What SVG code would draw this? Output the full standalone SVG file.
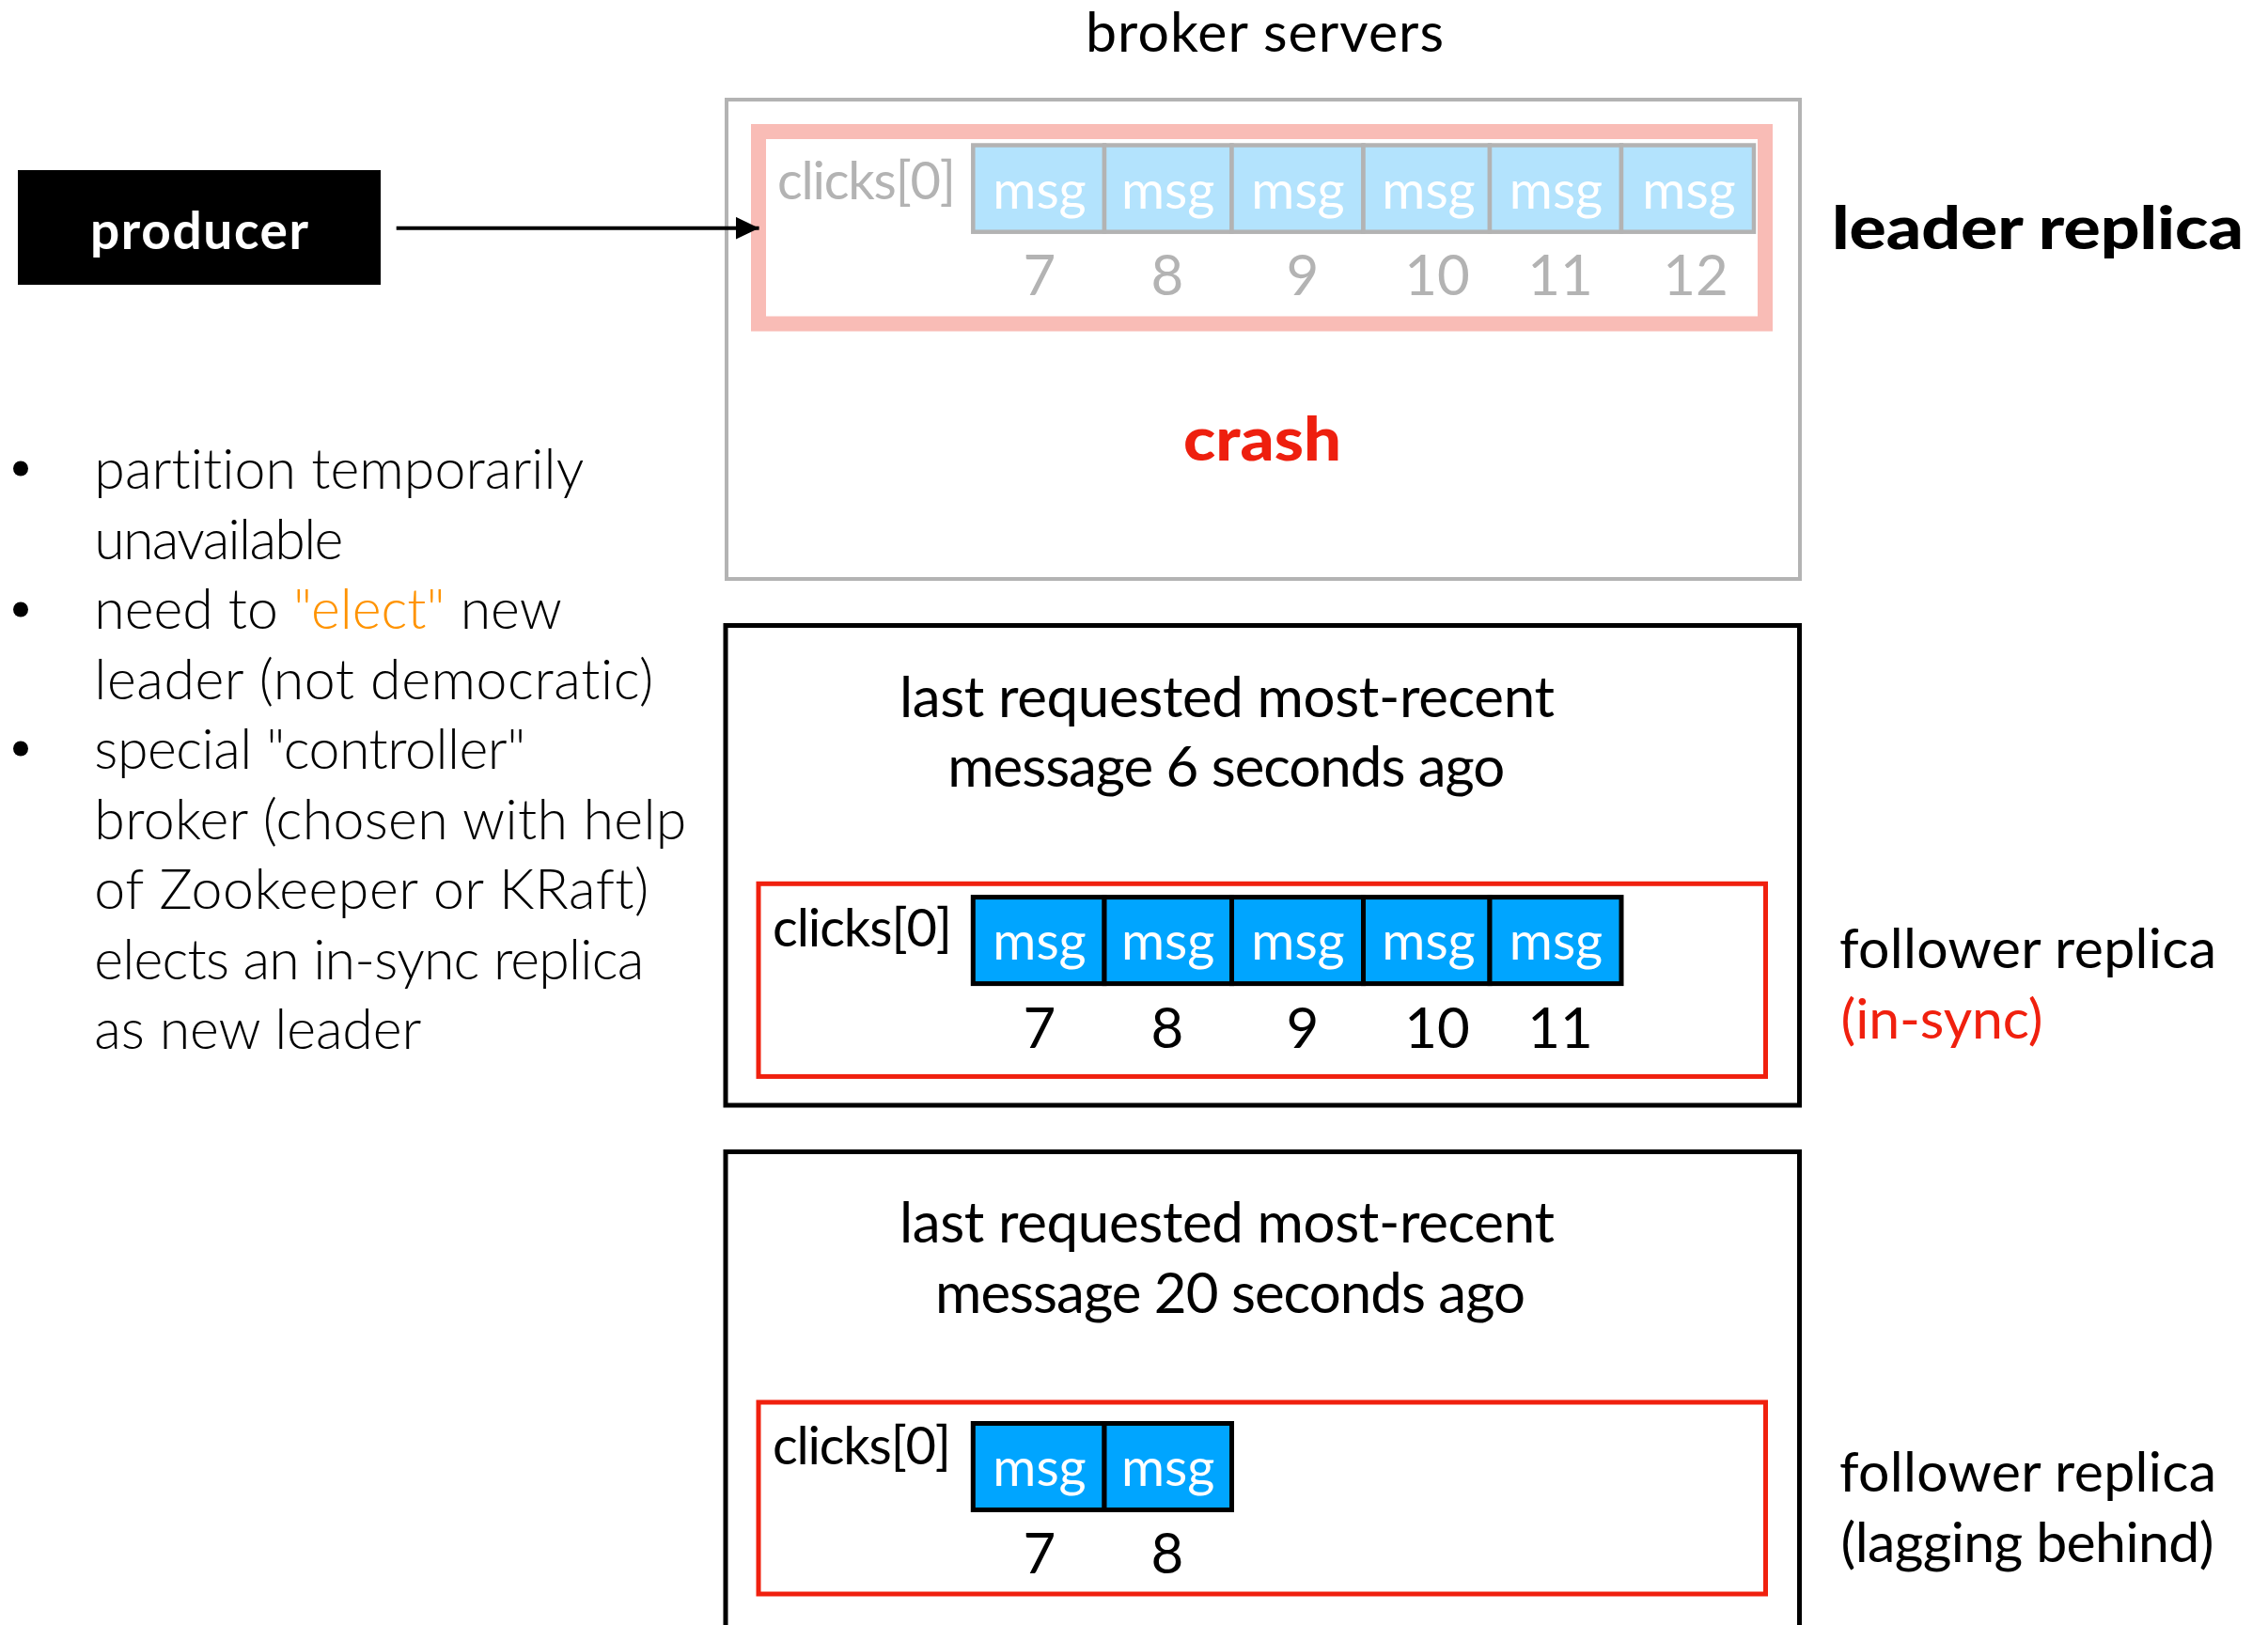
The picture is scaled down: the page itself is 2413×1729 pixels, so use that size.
<svg xmlns="http://www.w3.org/2000/svg" width="2413" height="1729" viewBox="0 0 2413 1729">
<defs>
<style>
text{font-family:"Lato","Open Sans","Liberation Sans",sans-serif;font-variant-ligatures:none}
.reg{font-weight:400;fill:#000}
.light{font-weight:300;fill:#000;font-size:59px}
.msg{font-size:56px;fill:#fff;text-anchor:middle;font-weight:400}
.num{font-size:60px;text-anchor:middle;font-weight:400}
.clk{font-size:56px;font-weight:400}
.cellL{fill:#b3e3fd;stroke:#b3b3b3;stroke-width:4.5}
.cellF{fill:#00a5ff;stroke:#000;stroke-width:5}
.frame{fill:none;stroke:#000;stroke-width:5}
.redbox{fill:none;stroke:#f0200e;stroke-width:5}
</style>
<marker id="ah" markerUnits="userSpaceOnUse" markerWidth="26" markerHeight="26" refX="25" refY="12" orient="auto">
<path d="M0,0 L25,12 L0,24 z" fill="#000"/>
</marker>
</defs>
<rect width="2413" height="1729" fill="#fff"/>

<text id="title" class="reg" x="1345.5" y="55" font-size="59" text-anchor="middle" textLength="381">broker servers</text>

<g id="producer">
<rect x="19" y="181" width="386" height="122" fill="#000"/>
<text x="212" y="265" font-size="55" font-weight="700" fill="#fff" text-anchor="middle" textLength="232">producer</text>
</g>

<g id="leader">
<rect x="773" y="106" width="1142" height="510" fill="none" stroke="#b3b3b3" stroke-width="4"/>
<rect x="807" y="140" width="1071" height="204.5" fill="none" stroke="#f9bcb6" stroke-width="16"/>
<text class="clk" x="827" y="212" fill="#b3b3b3" textLength="190">clicks[0]</text>
<rect class="cellL" x="1035.3" y="154.5" width="139.7" height="92.2"/>
<rect class="cellL" x="1175" y="154.5" width="135.5" height="92.2"/>
<rect class="cellL" x="1310.5" y="154.5" width="140" height="92.2"/>
<rect class="cellL" x="1450.5" y="154.5" width="134.5" height="92.2"/>
<rect class="cellL" x="1585" y="154.5" width="140" height="92.2"/>
<rect class="cellL" x="1725" y="154.5" width="141" height="92.2"/>
<g class="msg">
<text x="1106" y="221.7">msg</text><text x="1242.7" y="221.7">msg</text><text x="1381" y="221.7">msg</text><text x="1520" y="221.7">msg</text><text x="1655.5" y="221.7">msg</text><text x="1797" y="221.7">msg</text>
</g>
<g class="num" fill="#b3b3b3">
<text x="1106" y="314">7</text><text x="1242" y="314">8</text><text x="1386" y="314">9</text><text x="1529" y="314">10</text><text x="1660" y="314">11</text><text x="1804" y="314">12</text>
</g>
<text x="1343" y="490" font-size="64" font-weight="900" fill="#ee1f0e" text-anchor="middle" textLength="168" lengthAdjust="spacingAndGlyphs">crash</text>
</g>

<text id="leader-label" x="1949" y="265" font-size="62" font-weight="900" fill="#000" textLength="438" lengthAdjust="spacingAndGlyphs">leader replica</text>

<g id="follower-insync">
<rect class="frame" x="772" y="665.5" width="1142.5" height="510.5"/>
<text class="reg" x="1305.4" y="762.5" font-size="60" text-anchor="middle" textLength="697">last requested most-recent</text>
<text class="reg" x="1304.7" y="837" font-size="60" text-anchor="middle" textLength="593">message 6 seconds ago</text>
<rect class="redbox" x="807" y="940.3" width="1071.5" height="205.1"/>
<text class="clk" x="822" y="1006.5" fill="#000" textLength="191">clicks[0]</text>
<rect class="cellF" x="1035.3" y="954.6" width="139.7" height="92"/>
<rect class="cellF" x="1175" y="954.6" width="135.5" height="92"/>
<rect class="cellF" x="1310.5" y="954.6" width="140" height="92"/>
<rect class="cellF" x="1450.5" y="954.6" width="134.5" height="92"/>
<rect class="cellF" x="1585" y="954.6" width="140" height="92"/>
<g class="msg">
<text x="1106" y="1021">msg</text><text x="1242.7" y="1021">msg</text><text x="1381" y="1021">msg</text><text x="1520" y="1021">msg</text><text x="1655.5" y="1021">msg</text>
</g>
<g class="num" fill="#000">
<text x="1106" y="1114.6">7</text><text x="1242" y="1114.6">8</text><text x="1386" y="1114.6">9</text><text x="1529" y="1114.6">10</text><text x="1660" y="1114.6">11</text>
</g>
</g>

<g id="label-insync">
<text class="reg" x="1957" y="1030" font-size="59" textLength="401">follower replica</text>
<text x="1958.5" y="1105" font-size="59" font-weight="400" fill="#f0200e" textLength="215">(in-sync)</text>
</g>

<g id="follower-lagging">
<rect class="frame" x="772" y="1225.5" width="1142.5" height="540"/>
<text class="reg" x="1305.4" y="1322" font-size="60" text-anchor="middle" textLength="697">last requested most-recent</text>
<text class="reg" x="1309" y="1397" font-size="60" text-anchor="middle" textLength="628">message 20 seconds ago</text>
<rect class="redbox" x="807" y="1492" width="1071.5" height="204"/>
<text class="clk" x="822" y="1558" fill="#000" textLength="190">clicks[0]</text>
<rect class="cellF" x="1035.3" y="1514.5" width="139.7" height="92"/>
<rect class="cellF" x="1175" y="1514.5" width="135.5" height="92"/>
<g class="msg">
<text x="1106" y="1581">msg</text><text x="1242.7" y="1581">msg</text>
</g>
<g class="num" fill="#000">
<text x="1106" y="1674">7</text><text x="1242" y="1674">8</text>
</g>
</g>

<g id="label-lagging">
<text class="reg" x="1957" y="1587" font-size="59" textLength="401">follower replica</text>
<text class="reg" x="1958.5" y="1662" font-size="59" textLength="397">(lagging behind)</text>
</g>

<g id="notes">
<circle cx="22" cy="498.5" r="8" fill="#000"/>
<circle cx="22" cy="648.5" r="8" fill="#000"/>
<circle cx="22" cy="796.5" r="8" fill="#000"/>
<text class="light" x="100.3" y="520.3" textLength="521">partition temporarily</text>
<text class="light" x="100.3" y="594.8" textLength="265">unavailable</text>
<text class="light" x="100.3" y="669.3">need to <tspan fill="#ff9300">"elect"</tspan> new</text>
<text class="light" x="100.3" y="743.8" textLength="595">leader (not democratic)</text>
<text class="light" x="100.3" y="818.3" textLength="459">special "controller"</text>
<text class="light" x="100.3" y="892.8" textLength="630">broker (chosen with help</text>
<text class="light" x="100.3" y="967.3" textLength="590">of Zookeeper or KRaft)</text>
<text class="light" x="100.3" y="1041.8" textLength="585">elects an in-sync replica</text>
<text class="light" x="100.3" y="1116.3" textLength="348">as new leader</text>
</g>

<g id="connectors">
<line x1="421.7" y1="242.7" x2="807.6" y2="242.7" stroke="#000" stroke-width="4" marker-end="url(#ah)"/>
</g>
</svg>
